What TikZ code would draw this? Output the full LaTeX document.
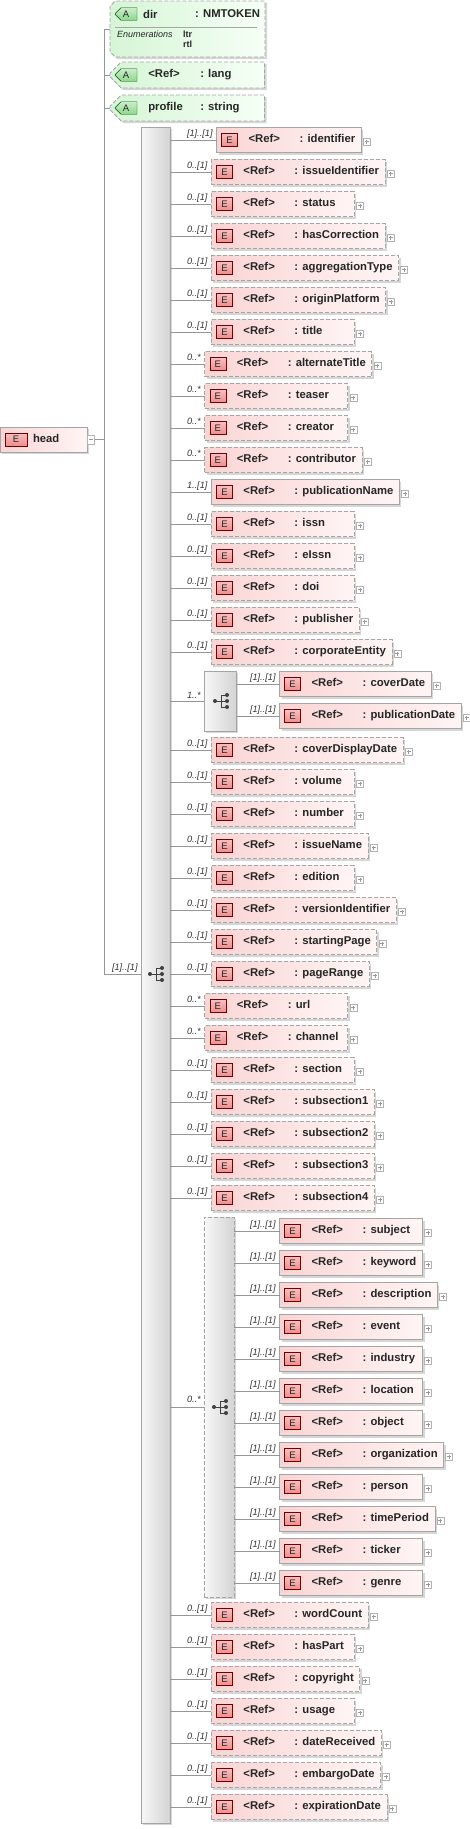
\documentclass[tikz,border=0pt]{standalone}
\usepackage{fontspec}
\setmainfont{Liberation Sans}
\usetikzlibrary{positioning,shapes.misc,shadows}

\definecolor{elemleft}{RGB}{250,212,212}
\definecolor{elemright}{RGB}{255,245,245}
\definecolor{attrleft}{RGB}{214,245,214}
\definecolor{attrright}{RGB}{246,255,246}
\definecolor{edgegray}{RGB}{165,165,165}
\definecolor{linegray}{RGB}{150,150,150}
\definecolor{iconred}{RGB}{238,140,140}
\definecolor{icongreen}{RGB}{140,215,140}

\newsavebox\namebox
\newcommand\namecol[2]{\sbox\namebox{#2}\ifdim\wd\namebox<#1\makebox[#1][l]{\usebox\namebox}\else\usebox\namebox\fi}
\newcommand\reftext[1]{\hspace*{32pt}\makebox[51pt][l]{<Ref>}\namecol{54pt}{: #1}\hspace*{6pt}}
\newcommand\attrtext[2]{\hspace*{33pt}\makebox[52pt][l]{#1}\namecol{52pt}{#2}\hspace*{7pt}}

\tikzset{
  conn/.style={draw=linegray, line width=0.8pt},
  mult/.style={font=\fontsize{9.2}{10}\selectfont\itshape, inner sep=0pt, outer sep=0pt, text=black!80},
  boxshadow/.style={drop shadow={shadow xshift=2pt, shadow yshift=-2pt, fill=black!20, opacity=0.8}},
  req/.style={draw=edgegray, line width=0.8pt},
  opt/.style={draw=edgegray, line width=0.8pt, dash pattern=on 4pt off 2pt},
  boxtext/.style={font=\fontsize{11.3}{13}\selectfont\bfseries, text=black!85},
  elem/.style={rectangle, minimum height=25pt, inner xsep=0pt, inner ysep=0pt, outer sep=0pt,
    text height=8pt, text depth=2.5pt, left color=elemleft, right color=elemright, boxtext, boxshadow},
  attr/.style={chamfered rectangle, chamfered rectangle corners={north west,south west},
    chamfered rectangle xsep=6pt, chamfered rectangle ysep=6pt, opt,
    minimum height=26pt, inner xsep=0pt, inner ysep=0pt, outer sep=0pt,
    text height=8pt, text depth=2.5pt, left color=attrleft, right color=attrright, boxtext, boxshadow},
  eicon/.style={rectangle, draw=red!45!black, top color=iconred!55, bottom color=iconred,
    minimum width=16pt, minimum height=13pt, inner sep=0pt, outer sep=0pt,
    font=\fontsize{9.5}{10}\selectfont, text=black!85},
  aicon/.style={chamfered rectangle, chamfered rectangle corners={north west,south west},
    chamfered rectangle xsep=3pt, chamfered rectangle ysep=3pt, draw=green!30!black,
    top color=icongreen!45, bottom color=icongreen, minimum width=22pt, minimum height=12pt,
    inner sep=0pt, outer sep=0pt, font=\fontsize{9.5}{10}\selectfont, text=black!85},
  plusbox/.style={rectangle, draw=black!30, fill=white, minimum size=7pt, inner sep=0pt, outer sep=0pt,
    path picture={\draw[black!40, line width=0.6pt] (path picture bounding box.center) +(-2pt,0pt) -- +(2pt,0pt)
      (path picture bounding box.center) +(0pt,-2pt) -- +(0pt,2pt);}},
  minusbox/.style={rectangle, draw=black!30, fill=white, minimum width=7pt, minimum height=9pt, inner sep=0pt, outer sep=0pt,
    path picture={\draw[black!40, line width=0.6pt] (path picture bounding box.center) +(-2pt,0pt) -- +(2pt,0pt);}},
  compositor/.style={rectangle, req, left color=black!3, right color=black!17, inner sep=0pt, outer sep=0pt, boxshadow},
  enumtext/.style={font=\fontsize{9}{10}\selectfont, inner sep=0pt, text=black!85},
  compicon/.pic={
    \draw[black!75, line width=0.8pt] (-7pt,0pt) -- (-1pt,0pt) (-1pt,-6pt) -- (-1pt,6pt)
      (-1pt,6pt) -- (5pt,6pt) (-1pt,0pt) -- (5pt,0pt) (-1pt,-6pt) -- (5pt,-6pt);
    \fill[black!75] (-7pt,0pt) circle (2pt) (5pt,6pt) circle (2pt) (5pt,0pt) circle (2pt) (5pt,-6pt) circle (2pt);
  }
}

% one child element: id, parent, label x, y, multiplicity, name, border
\newcommand\elemrow[7]{%
  \node[mult, anchor=base west] (m#1) at (#3,{#4-4}) {#5};
  \node[elem, #7, right=4pt of m#1.base east, yshift=-4pt] (e#1) {\reftext{#6}};
  \node[eicon, right=5pt of e#1.west] (i#1) {E};
  \node[plusbox, right=2pt of e#1.east, yshift=-1.5pt] (p#1) {};
  \draw[conn] (#2.east |- e#1.west) -- (e#1.west);
}

\begin{document}
\begin{tikzpicture}[x=1pt, y=-1pt]
  \useasboundingbox (0,0) rectangle (470,1829);

  % root element
  \node[elem, req, anchor=west] (head) at (0,439.5) {\makebox[87pt][l]{\hspace*{33pt}head}};
  \node[eicon, minimum width=22pt, right=5pt of head.west] (ihead) {E};
  \node[minusbox, right=0.5pt of head.east] (mhead) {};

  % trunk
  \coordinate (ttop) at (104,29);
  \coordinate (tbot) at (104,974);
  \draw[conn] (ttop) -- (tbot);
  \draw[conn] (mhead.east) -- (mhead.east -| ttop);

  % attributes
  \node[attr, minimum width=155pt, minimum height=56pt, anchor=west] (dir) at (110,29) {};
  \node[aicon, anchor=west] (adir) at (115,14) {A};
  \node[boxtext, inner sep=0pt, anchor=west] (ndir) at (143,14) {dir};
  \node[boxtext, inner sep=0pt, anchor=west] (tdir) at (195,14) {: NMTOKEN};
  \draw[black!35, line width=0.6pt] (115,27) -- (257,27);
  \node[enumtext, font=\fontsize{9}{10}\selectfont\itshape, anchor=west] (edir) at (117,34) {Enumerations};
  \node[enumtext, font=\fontsize{9}{10}\selectfont\bfseries, anchor=west] (vltr) at (183,34) {ltr};
  \node[enumtext, font=\fontsize{9}{10}\selectfont\bfseries, anchor=west] (vrtl) at (183,44) {rtl};

  \node[attr, anchor=west] (lang) at (110,75) {\attrtext{<Ref>}{: lang}};
  \node[aicon, right=5pt of lang.west] (alang) {A};
  \node[attr, anchor=west] (profile) at (110,108) {\attrtext{profile}{: string}};
  \node[aicon, right=5pt of profile.west] (aprofile) {A};

  \draw[conn] (dir.west -| ttop) -- (dir.west);
  \draw[conn] (lang.west -| ttop) -- (lang.west);
  \draw[conn] (profile.west -| ttop) -- (profile.west);

  % main sequence
  \node[compositor, minimum width=29pt, minimum height=1696pt] (seq) at (155.5,975) {};
  \pic at (157,974) {compicon};
  \node[mult, anchor=base west] (mseq) at (112,970) {[1]..[1]};
  \draw[conn] (tbot) -- (tbot -| seq.west);

  \foreach \y/\m/\n/\s [count=\i] in {
    140/{[1]..[1]}/identifier/req, 172/{0..[1]}/issueIdentifier/opt,
    204/{0..[1]}/status/opt, 236/{0..[1]}/hasCorrection/opt,
    268/{0..[1]}/aggregationType/opt, 300/{0..[1]}/originPlatform/opt,
    332/{0..[1]}/title/opt, 364/{0..*}/alternateTitle/opt,
    396/{0..*}/teaser/opt, 428/{0..*}/creator/opt,
    460/{0..*}/contributor/opt, 492/{1..[1]}/publicationName/req,
    524/{0..[1]}/issn/opt, 556/{0..[1]}/eIssn/opt,
    588/{0..[1]}/doi/opt, 620/{0..[1]}/publisher/opt,
    652/{0..[1]}/corporateEntity/opt, 750/{0..[1]}/coverDisplayDate/opt,
    782/{0..[1]}/volume/opt, 814/{0..[1]}/number/opt,
    846/{0..[1]}/issueName/opt, 878/{0..[1]}/edition/opt,
    910/{0..[1]}/versionIdentifier/opt, 942/{0..[1]}/startingPage/opt,
    974/{0..[1]}/pageRange/opt, 1006/{0..*}/url/opt,
    1038/{0..*}/channel/opt, 1070/{0..[1]}/section/opt,
    1102/{0..[1]}/subsection1/opt, 1134/{0..[1]}/subsection2/opt,
    1166/{0..[1]}/subsection3/opt, 1198/{0..[1]}/subsection4/opt,
    1615/{0..[1]}/wordCount/opt, 1647/{0..[1]}/hasPart/opt,
    1679/{0..[1]}/copyright/opt, 1711/{0..[1]}/usage/opt,
    1743/{0..[1]}/dateReceived/opt, 1775/{0..[1]}/embargoDate/opt,
    1807/{0..[1]}/expirationDate/opt}
    {\elemrow{a\i}{seq}{187}{\y}{\m}{\n}{\s}}

  % choice of dates
  \node[compositor, minimum width=32pt, minimum height=60pt] (dates) at (220,701) {};
  \pic at (222,701) {compicon};
  \node[mult, anchor=base west] (mdates) at (187,698) {1..*};
  \draw[conn] (seq.east |- dates.west) -- (dates.west);
  \elemrow{c1}{dates}{250}{684}{[1]..[1]}{coverDate}{req}
  \elemrow{c2}{dates}{250}{716}{[1]..[1]}{publicationDate}{req}

  % inner sequence of subjects
  \node[compositor, opt, minimum width=30pt, minimum height=380pt] (topics) at (219,1407) {};
  \pic at (221,1407) {compicon};
  \node[mult, anchor=base west] (mtopics) at (187,1402) {0..*};
  \draw[conn] (seq.east |- topics.west) -- (topics.west);
  \foreach \n [count=\i] in {subject, keyword, description, event, industry, location,
    object, organization, person, timePeriod, ticker, genre}
    {\elemrow{s\i}{topics}{250}{1231+32*(\i-1)}{[1]..[1]}{\n}{req}}
\end{tikzpicture}
\end{document}
